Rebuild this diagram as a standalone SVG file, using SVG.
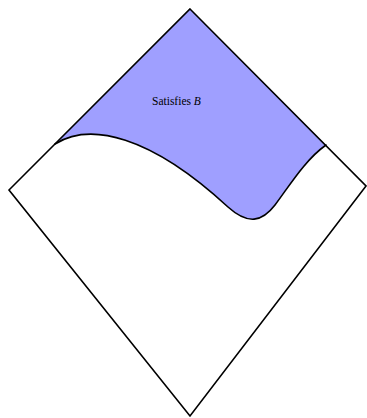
<svg xmlns="http://www.w3.org/2000/svg" width="367" height="418" viewBox="0 0 367 418">
<style>
.edge{fill:none;stroke:#000;stroke-width:1.6;stroke-linejoin:miter;stroke-linecap:round}
.region{fill:#9f9fff;stroke:none}
.lbl{font-family:"Liberation Serif",serif;font-size:11.5px;fill:#000}
</style>
<rect width="367" height="418" fill="#fff"/>
<g id="region-b">
<path class="region" d="M190,9 L326,145 C305,160 290,185 275,205 C262,222 248,225 228,207 C150,135 90,122 55,144 Z"/>
<text class="lbl" x="152" y="105">Satisfies <tspan font-style="italic">B</tspan></text>
</g>
<g id="connectors">
<path class="edge" d="M190,9 L366,186 L190,416 L9,190 Z"/>
<path class="edge" d="M55,144 C90,122 150,135 228,207 C248,225 262,222 275,205 C290,185 305,160 326,145"/>
</g>
</svg>
